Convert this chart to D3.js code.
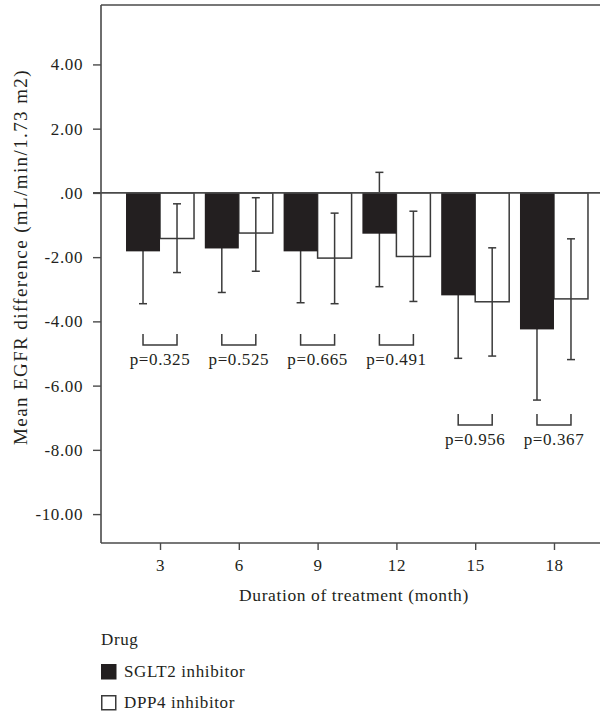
<!DOCTYPE html>
<html>
<head>
<meta charset="utf-8">
<script src="https://cdn.jsdelivr.net/npm/d3@7"></script>
<style>
  html, body { margin: 0; padding: 0; background: #fff; }
  svg { display: block; }
  text { font-family: "Liberation Serif", "Times New Roman", serif; fill: #231f20; }
</style>
</head>
<body>
<svg id="chart" width="600" height="712"></svg>
<script>
// ---- data ----
const months = ["3", "6", "9", "12", "15", "18"];
const sglt2Mean = [-1.82, -1.73, -1.82, -1.27, -3.19, -4.25];
const sglt2Low  = [-3.45, -3.10, -3.42, -2.92, -5.15, -6.45];
const sglt2High = [-0.19, -0.36, -0.22, 0.64, -1.23, -2.05];
const dpp4Mean  = [-1.42, -1.25, -2.03, -1.98, -3.39, -3.30];
const dpp4Low   = [-2.48, -2.44, -3.45, -3.38, -5.08, -5.19];
const dpp4High  = [-0.34, -0.15, -0.63, -0.57, -1.71, -1.43];
const pLabels   = ["p=0.325", "p=0.525", "p=0.665", "p=0.491", "p=0.956", "p=0.367"];
const pLevel    = [-4.39, -4.39, -4.39, -4.39, -6.88, -6.88];
const yTicks    = [4, 2, 0, -2, -4, -6, -8, -10];
const yTickLabels = ["4.00", "2.00", ".00", "-2.00", "-4.00", "-6.00", "-8.00", "-10.00"];
const seriesNames = ["SGLT2 inhibitor", "DPP4 inhibitor"];

(function () {
// ---- layout ----
const svg = d3.select("#chart");
const pLeft = 101, pRight = 613, pTop = 5, pBottom = 543;
const ink = "#231f20", lineCol = "#4a4a4a";

const y = d3.scaleLinear().domain([-10.9, 5.85]).range([pBottom, pTop]);
const x = d3.scalePoint().domain(months).range([pLeft, pRight]).padding(0.749);
const sub = d3.scaleBand().domain(["s", "d"]).range([-34, 34]);
const bw = sub.bandwidth();

const rows = months.map((m, i) => ({
  m,
  s: { mean: sglt2Mean[i], lo: sglt2Low[i], hi: sglt2High[i] },
  d: { mean: dpp4Mean[i], lo: dpp4Low[i], hi: dpp4High[i] },
  p: pLabels[i], lvl: pLevel[i]
}));

const font = { size: 17, ls: 0.6 };

// frame
svg.append("line").attr("x1", pLeft).attr("x2", pRight).attr("y1", pTop).attr("y2", pTop)
  .attr("stroke", lineCol).attr("stroke-width", 1.6);

// axes
const yAxis = svg.append("g").attr("transform", `translate(${pLeft},0)`)
  .call(d3.axisLeft(y).tickValues(yTicks).tickSize(8).tickPadding(10)
    .tickFormat((d, i) => yTickLabels[i]));
const xAxis = svg.append("g").attr("transform", `translate(0,${pBottom})`)
  .call(d3.axisBottom(x).tickSize(7).tickPadding(9));
[yAxis, xAxis].forEach(g => {
  g.select(".domain").attr("stroke", lineCol).attr("stroke-width", 1.6);
  g.selectAll(".tick line").attr("stroke", lineCol).attr("stroke-width", 1.4);
  g.selectAll(".tick text").attr("font-family", "Liberation Serif, serif")
    .attr("font-size", font.size).attr("letter-spacing", font.ls).attr("fill", ink);
});
xAxis.select(".domain").attr("d", `M${pLeft},0H${pRight}`);
yAxis.select(".domain").attr("d", `M0,${pTop}V${pBottom}`);

// white bars
const gRow = svg.append("g").selectAll("g").data(rows).join("g")
  .attr("transform", d => `translate(${x(d.m)},0)`);

gRow.append("rect")
  .attr("x", sub("d")).attr("width", bw)
  .attr("y", d => y(Math.max(0, d.d.mean)))
  .attr("height", d => Math.abs(y(d.d.mean) - y(0)))
  .attr("fill", "#fff").attr("stroke", "#3a3a3a").attr("stroke-width", 1.5);

// error bars
["s", "d"].forEach(k => {
  const cx = sub(k) + bw / 2;
  const eb = gRow.append("g").attr("stroke", "#3a3a3a").attr("stroke-width", 1.5);
  eb.append("line").attr("x1", cx).attr("x2", cx)
    .attr("y1", d => y(d[k].hi)).attr("y2", d => y(d[k].lo));
  eb.append("line").attr("x1", cx - 4).attr("x2", cx + 4)
    .attr("y1", d => y(d[k].hi)).attr("y2", d => y(d[k].hi));
  eb.append("line").attr("x1", cx - 4).attr("x2", cx + 4)
    .attr("y1", d => y(d[k].lo)).attr("y2", d => y(d[k].lo));
});

// black bars
gRow.append("rect")
  .attr("x", sub("s")).attr("width", bw)
  .attr("y", d => y(Math.max(0, d.s.mean)))
  .attr("height", d => Math.abs(y(d.s.mean) - y(0)))
  .attr("fill", ink);

// zero line
svg.append("line").attr("x1", pLeft - 8).attr("x2", pRight).attr("y1", y(0)).attr("y2", y(0))
  .attr("stroke", lineCol).attr("stroke-width", 1.8);

// p-value brackets
const bx1 = sub("s") + bw / 2, bx2 = sub("d") + bw / 2;
gRow.append("path")
  .attr("d", d => `M${bx1},${y(d.lvl)}V${y(d.lvl) + 11}H${bx2}V${y(d.lvl)}`)
  .attr("fill", "none").attr("stroke", "#3a3a3a").attr("stroke-width", 1.5);
gRow.append("text")
  .attr("x", (bx1 + bx2) / 2).attr("y", d => y(d.lvl) + 31)
  .attr("text-anchor", "middle").attr("font-size", font.size).attr("letter-spacing", font.ls)
  .text(d => d.p);

// axis titles
svg.append("text")
  .attr("transform", `translate(27,257) rotate(-90)`)
  .attr("text-anchor", "middle").attr("font-size", 19).attr("letter-spacing", 1.4)
  .text("Mean EGFR difference (mL/min/1.73 m2)");
svg.append("text")
  .attr("x", 354).attr("y", 601)
  .attr("text-anchor", "middle").attr("font-size", 17.5).attr("letter-spacing", font.ls)
  .text("Duration of treatment (month)");

// legend
const lg = svg.append("g").attr("transform", "translate(101,0)");
lg.append("text").attr("x", 0).attr("y", 645).attr("font-size", font.size).attr("letter-spacing", font.ls).text("Drug");
const items = lg.selectAll("g.item").data(seriesNames).join("g").attr("class", "item")
  .attr("transform", (d, i) => `translate(0,${664 + i * 31})`);
items.append("rect").attr("x", 0.75).attr("y", 0.75).attr("width", 14).attr("height", 14)
  .attr("fill", (d, i) => i === 0 ? ink : "#fff")
  .attr("stroke", (d, i) => i === 0 ? ink : "#3a3a3a").attr("stroke-width", 1.5);
items.append("text").attr("x", 23).attr("y", 13).attr("font-size", font.size)
  .attr("letter-spacing", font.ls).text(d => d);
})();
</script>
</body>
</html>
